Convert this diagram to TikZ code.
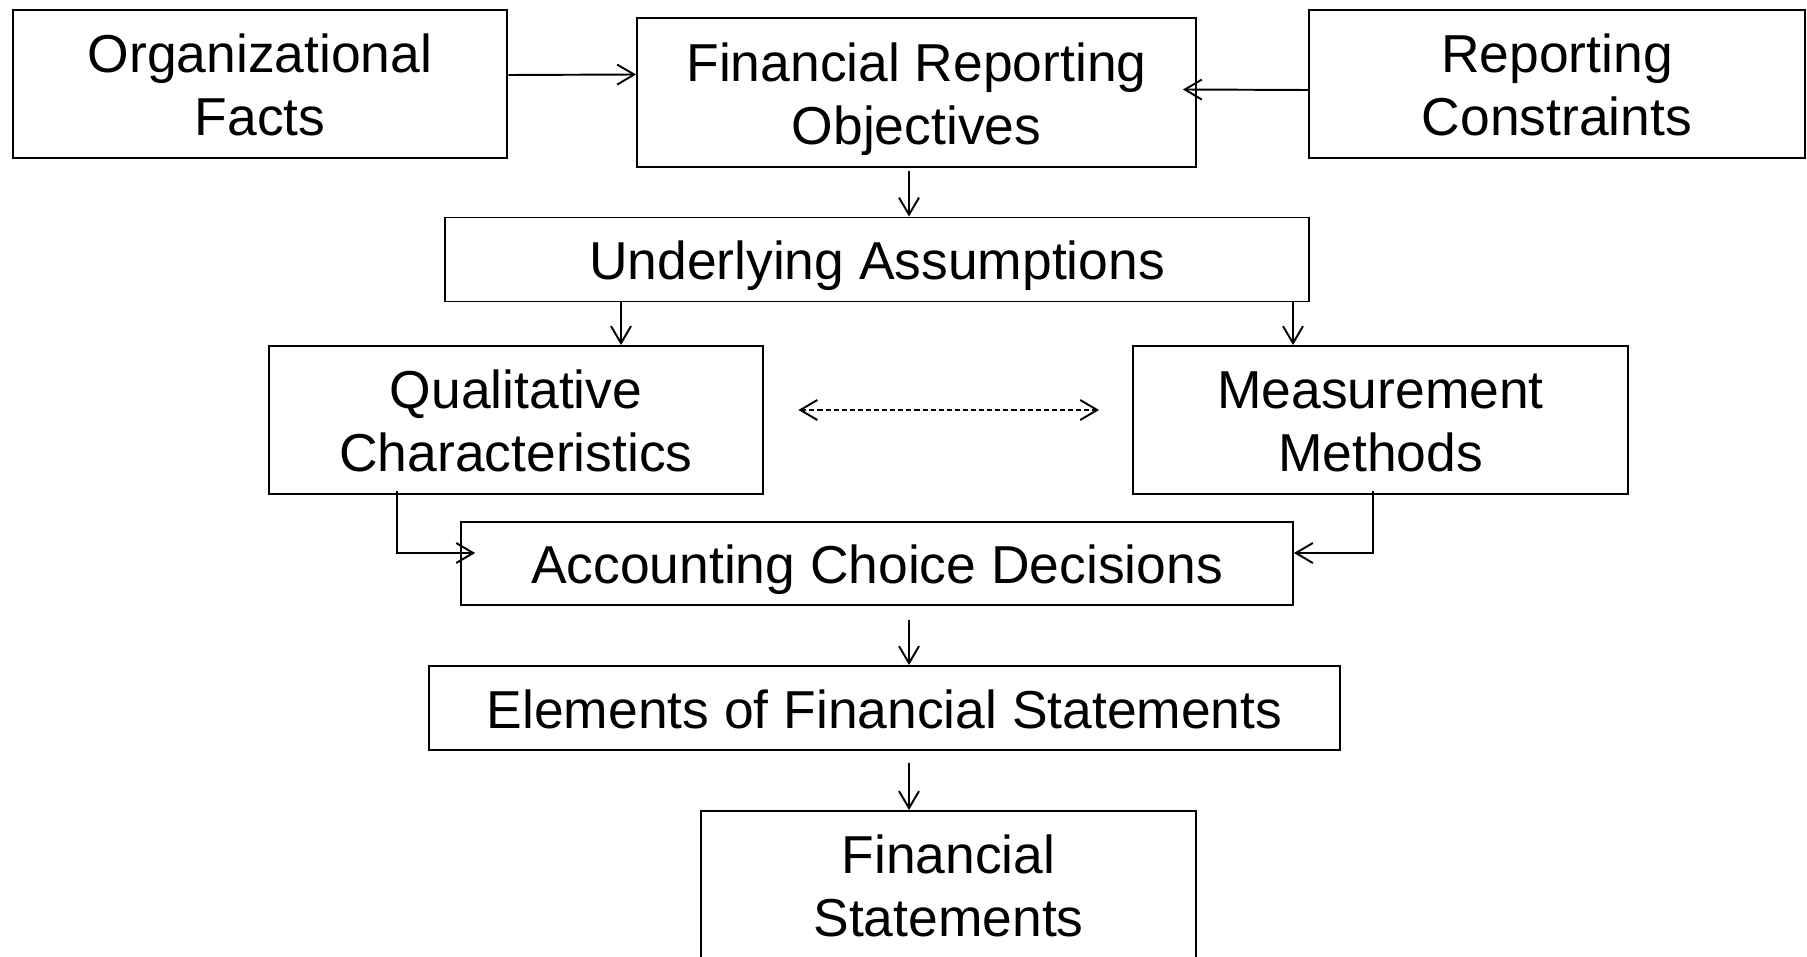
\documentclass[tikz,border=0pt]{standalone}
\usepackage{fontspec}
\setmainfont{Liberation Sans}
\usetikzlibrary{arrows.meta,calc}

% a line whose box is only as tall as its capitals
\newcommand{\capl}[1]{\smash{#1}\rule{0pt}{\dimexpr\fontcharht\font`H+2pt\relax}}

\tikzset{
  box/.style={draw, line width=1.1pt, align=center, inner sep=0pt,
    font=\fontsize{30.4}{36}\selectfont},
  bigbox/.style={box, minimum width=9.9cm, minimum height=2.96cm},
  barbox/.style={box, minimum height=1.68cm},
  arr/.style={line width=1.1pt, -{Straight Barb[length=0.34cm,width=0.4cm]}},
  dasharr/.style={line width=1.1pt, dash pattern=on 2.9pt off 1.7pt,
    {Straight Barb[length=0.34cm,width=0.4cm]}-{Straight Barb[length=0.34cm,width=0.4cm]}}
}

\begin{document}
\begin{tikzpicture}[x=0.02cm, y=-0.02cm]
  \useasboundingbox (0,0) rectangle (1807,956);

  \node[bigbox] (org) at (260,84) {\capl{Organizational}\\\capl{Facts}};
  \node[bigbox, minimum width=11.18cm, minimum height=2.98cm] (fro) at (916.5,92.5) {\capl{Financial Reporting}\\\capl{Objectives}};
  \node[bigbox, minimum width=9.92cm] (rc) at (1557,84) {\capl{Reporting}\\\capl{Constraints}};
  \node[barbox, minimum width=17.28cm] (ua) at (877,259.5) {\capl{Underlying Assumptions}};
  \node[bigbox] (qc) at (516,420) {\capl{Qualitative}\\\capl{Characteristics}};
  \node[bigbox] (mm) at (1380.5,420) {\capl{Measurement}\\\capl{Methods}};
  \node[barbox, minimum width=16.64cm, minimum height=1.66cm] (acd) at (877,563.5) {\capl{Accounting Choice Decisions}};
  \node[barbox, minimum width=18.22cm] (efs) at (884.5,708) {\capl{Elements of Financial Statements}};
  \node[bigbox] (fs) at (948.5,885) {\capl{Financial}\\\capl{Statements}};

  % top row into objectives
  \draw[arr] ($(org.east)+(0,-9)$) -- ($(fro.west)+(0,-18)$);
  \draw[arr] ($(rc.west)+(0,6)$) -- ($(fro.east)+(-14,-3)$);
  \draw[arr] ($(fro.south)+(-7.5,3)$) -- ($(ua.north)+(32,0)$);

  \draw[arr] ($(ua.south)+(-256,0)$) -- ($(qc.north)+(105,0)$);
  \draw[arr] ($(ua.south)+(416,0)$) -- ($(mm.north)+(-87.5,0)$);
  \draw[dasharr] ($(qc.east)+(34,-10)$) -- ($(mm.west)+(-33,-10)$);

  \draw[arr] ($(qc.south)+(-119,-4)$) |- ($(acd.west)+(15,-10.5)$);
  \draw[arr] ($(mm.south)+(-7.5,-4)$) |- ($(acd.east)+(0,-10.5)$);

  \draw[arr] ($(acd.south)+(32,14)$) -- ($(efs.north)+(24.5,0)$);
  \draw[arr] ($(efs.south)+(24.5,12)$) -- ($(fs.north)+(-39.5,0)$);
\end{tikzpicture}
\end{document}
